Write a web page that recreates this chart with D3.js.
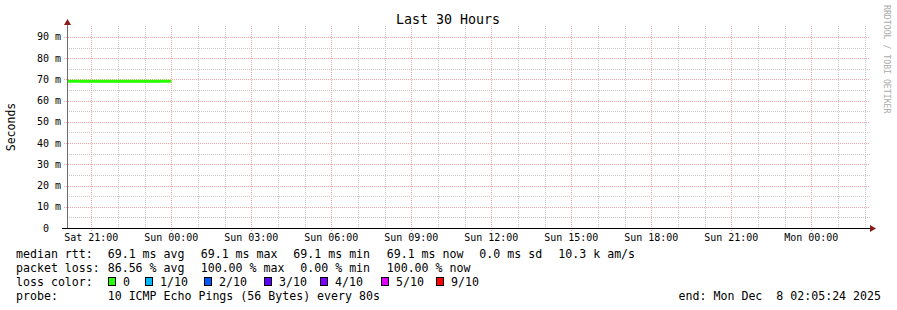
<!DOCTYPE html>
<html>
<head>
<meta charset="utf-8">
<script src="https://cdn.jsdelivr.net/npm/d3@7"></script>
<style>
  html, body { margin: 0; padding: 0; background: #fff; }
  svg { display: block; font-family: "DejaVu Sans Mono", monospace; }
  svg text { white-space: pre; }
</style>
</head>
<body>
<div id="theChart"></div>
<script>
// median rtt samples (seconds), time axis ends Mon Dec 8 02:05:24 2025
var sampleTimes = [
  new Date(2025, 11, 6, 20, 5, 24),
  new Date(2025, 11, 6, 21, 0, 0),
  new Date(2025, 11, 6, 22, 0, 0),
  new Date(2025, 11, 6, 23, 0, 0),
  new Date(2025, 11, 7, 0, 0, 0)
];
var medianRtt = [0.0691, 0.0691, 0.0691, 0.0691, 0.0691];
var timeRange = [new Date(2025, 11, 6, 20, 5, 24), new Date(2025, 11, 8, 2, 5, 24)];
var yRange = [0, 0.0942];
var yTicks = [0, 0.01, 0.02, 0.03, 0.04, 0.05, 0.06, 0.07, 0.08, 0.09];

var rttStats = ["69.1 ms avg", "69.1 ms max", "69.1 ms min", "69.1 ms now", "0.0 ms sd", "10.3 k am/s"];
var lossStats = ["86.56 % avg", "100.00 % max", " 0.00 % min", "100.00 % now"];
var lossLabels = ["0", "1/10", "2/10", "3/10", "4/10", "5/10", "9/10"];
var lossColors = ["#26ff00", "#00b8ff", "#0059ff", "#5e00ff", "#7e00ff", "#dd00ff", "#ff0000"];
var probeText = "10 ICMP Echo Pings (56 Bytes) every 80s";
var endText = "end: Mon Dec  8 02:05:24 2025";

var SmokeChart = function(config){
  this.chartW = 897;
  this.chartH = 310;
  this.left = 67;
  this.right = 867;
  this.top = 28;
  this.bottom = 228;
  for (var k in config) this[k] = config[k];
};

SmokeChart.prototype.draw = function(){
  var svg = d3.select(this.parentEle).append("svg")
    .attr("width", this.chartW)
    .attr("height", this.chartH);

  var x = d3.scaleTime().domain(timeRange).range([this.left, this.right]);
  var y = d3.scaleLinear().domain(yRange).range([this.bottom, this.top]);

  //grid: minor first, then major
  var grid = svg.append("g").attr("shape-rendering", "crispEdges");
  var minorY = d3.range(0.005, 0.0942, 0.01);
  grid.selectAll(".hmin").data(minorY).enter().append("line")
    .attr("x1", this.left).attr("x2", this.right + 3)
    .attr("y1", function(d){ return Math.round(y(d)) + 0.5; })
    .attr("y2", function(d){ return Math.round(y(d)) + 0.5; })
    .attr("stroke", "#c8c8c8").attr("stroke-dasharray", "1,1");
  var minorX = x.ticks(d3.timeHour.every(1)).filter(function(d){ return d.getHours() % 3 != 0; });
  grid.selectAll(".vmin").data(minorX).enter().append("line")
    .attr("x1", function(d){ return Math.round(x(d)) + 0.5; })
    .attr("x2", function(d){ return Math.round(x(d)) + 0.5; })
    .attr("y1", this.top - 2).attr("y2", this.bottom)
    .attr("stroke", "#c8c8c8").attr("stroke-dasharray", "1,1");
  grid.selectAll(".hmaj").data(yTicks.slice(1)).enter().append("line")
    .attr("x1", this.left - 3).attr("x2", this.right + 3)
    .attr("y1", function(d){ return Math.round(y(d)) + 0.5; })
    .attr("y2", function(d){ return Math.round(y(d)) + 0.5; })
    .attr("stroke", "#f4a6a6").attr("stroke-dasharray", "1,1");
  var majorX = x.ticks(d3.timeHour.every(3));
  grid.selectAll(".vmaj").data(majorX).enter().append("line")
    .attr("x1", function(d){ return Math.round(x(d)) + 0.5; })
    .attr("x2", function(d){ return Math.round(x(d)) + 0.5; })
    .attr("y1", this.top - 2).attr("y2", this.bottom + 3)
    .attr("stroke", "#f4a6a6").attr("stroke-dasharray", "1,1");

  //median line
  var line = d3.line()
    .x(function(d){ return x(d[0]); })
    .y(function(d){ return y(d[1]); });
  svg.append("path")
    .datum(d3.zip(sampleTimes, medianRtt))
    .attr("d", line)
    .attr("fill", "none")
    .attr("stroke", lossColors[0])
    .attr("stroke-width", 3);

  //axes
  svg.append("line")
    .attr("x1", this.left + 0.5).attr("x2", this.left + 0.5)
    .attr("y1", this.bottom).attr("y2", this.top - 6)
    .attr("stroke", "#6e6e6e").attr("shape-rendering", "crispEdges");
  svg.append("line")
    .attr("x1", this.left - 5).attr("x2", this.right + 4)
    .attr("y1", this.bottom + 0.5).attr("y2", this.bottom + 0.5)
    .attr("stroke", "#000").attr("shape-rendering", "crispEdges");
  svg.append("path")
    .attr("d", "M" + (this.left + 0.5) + "," + (this.top - 9) + "l3.5,6h-7z")
    .attr("fill", "#8b1a1a");
  svg.append("path")
    .attr("d", "M" + (this.right + 9) + "," + (this.bottom + 0.5) + "l-6,-3.5v7z")
    .attr("fill", "#8b1a1a");

  //tick labels
  svg.selectAll(".ylab").data(yTicks).enter().append("text")
    .attr("x", function(d){ return d == 0 ? 49 : 61; })
    .attr("y", function(d){ return y(d) + 3.5; })
    .attr("text-anchor", "end")
    .attr("font-size", "10px")
    .attr("fill", "#000")
    .text(function(d){ return d == 0 ? "0" : Math.round(d * 1000) + " m"; });
  var fmt = d3.timeFormat("%a %H:%M");
  svg.selectAll(".xlab").data(majorX).enter().append("text")
    .attr("x", function(d){ return x(d); })
    .attr("y", this.bottom + 13)
    .attr("text-anchor", "middle")
    .attr("font-size", "10px")
    .text(function(d){ return fmt(d); });

  //title, y label, watermark
  svg.append("text").attr("x", 448).attr("y", 24)
    .attr("text-anchor", "middle").attr("font-size", "13.3px")
    .text("Last 30 Hours");
  svg.append("text")
    .attr("transform", "translate(15,127) rotate(-90)")
    .attr("text-anchor", "middle").attr("font-size", "11.5px")
    .text("Seconds");
  svg.append("text")
    .attr("transform", "translate(884,5) rotate(90)")
    .attr("font-size", "8.2px").attr("fill", "#aaa")
    .text("RRDTOOL / TOBI OETIKER");

  //legend
  var lg = svg.append("g").attr("font-size", "11.6px").attr("fill", "#000");
  var rttX = [107.7, 200.7, 293.3, 386.7, 479.3, 558.3];
  lg.append("text").attr("x", 16).attr("y", 258).text("median rtt:");
  lg.selectAll(".rtt").data(rttStats).enter().append("text")
    .attr("x", function(d, i){ return rttX[i]; }).attr("y", 258)
    .text(function(d){ return d; });
  lg.append("text").attr("x", 16).attr("y", 272).text("packet loss:");
  lg.selectAll(".loss").data(lossStats).enter().append("text")
    .attr("x", function(d, i){ return rttX[i]; }).attr("y", 272)
    .attr("xml:space", "preserve")
    .text(function(d){ return d; });
  lg.append("text").attr("x", 16).attr("y", 286).text("loss color:");
  var boxX = [108, 145, 204, 264, 320, 381, 436];
  var items = lg.selectAll(".lc").data(lossLabels).enter().append("g");
  items.append("rect")
    .attr("x", function(d, i){ return boxX[i] + 0.5; }).attr("y", 277.5)
    .attr("width", 7).attr("height", 8)
    .attr("fill", function(d, i){ return lossColors[i]; })
    .attr("stroke", "#000");
  items.append("text")
    .attr("x", function(d, i){ return boxX[i] + 15; }).attr("y", 286)
    .text(function(d){ return d; });
  lg.append("text").attr("x", 16).attr("y", 300).text("probe:");
  lg.append("text").attr("x", 107.7).attr("y", 300).text(probeText);
  lg.append("text").attr("x", 881).attr("y", 300).attr("text-anchor", "end")
    .attr("xml:space", "preserve")
    .text(endText);
};

var chart = new SmokeChart({ parentEle: document.getElementById("theChart") });
chart.draw();
</script>
</body>
</html>
